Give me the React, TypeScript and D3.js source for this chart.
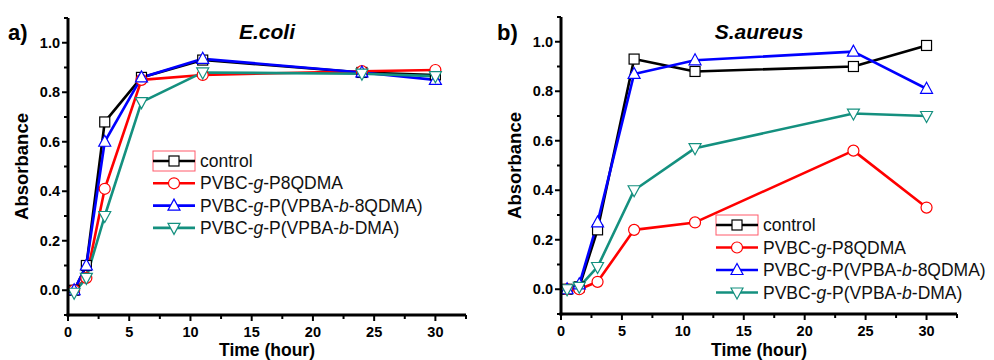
import * as d3 from 'd3';

const hours = [0.5, 1.5, 3, 6, 11, 24, 30];
const seriesNames = ['control', 'PVBC-g-P8QDMA', 'PVBC-g-P(VPBA-b-8QDMA)', 'PVBC-g-P(VPBA-b-DMA)'];

const ecoliControl = [0.0, 0.1, 0.68, 0.86, 0.93, 0.88, 0.87];
const ecoliP8QDMA = [0.0, 0.05, 0.41, 0.85, 0.87, 0.885, 0.89];
const ecoli8QDMA = [0.0, 0.1, 0.6, 0.86, 0.935, 0.88, 0.85];
const ecoliDMA = [-0.01, 0.05, 0.3, 0.76, 0.88, 0.875, 0.865];

const saureusControl = [0.0, 0.01, 0.24, 0.93, 0.88, 0.9, 0.985];
const saureusP8QDMA = [0.0, 0.0, 0.03, 0.24, 0.27, 0.56, 0.33];
const saureus8QDMA = [0.0, 0.02, 0.27, 0.87, 0.925, 0.96, 0.81];
const saureusDMA = [0.0, 0.01, 0.09, 0.4, 0.57, 0.71, 0.7];

const xTicks = [0, 5, 10, 15, 20, 25, 30];
const yTicks = [0.0, 0.2, 0.4, 0.6, 0.8, 1.0];

const colors = ['#000000', '#ff0000', '#0000ff', '#14907f'];
const shapes = ['square', 'circle', 'up', 'down'];
const FONT = '"Liberation Sans", Arial, sans-serif';

function Marker({ x, y, shape, color }: { x: number; y: number; shape: string; color: string }) {
  const r = 5.5;
  if (shape === 'square') {
    return <rect x={x - 5} y={y - 5} width={10} height={10} fill="#fff" stroke={color} strokeWidth={1.2} />;
  }
  if (shape === 'circle') {
    return <circle cx={x} cy={y} r={5.5} fill="#fff" stroke={color} strokeWidth={1.2} />;
  }
  const pts = shape === 'up'
    ? [[x, y - r - 1], [x - r - 0.5, y + r - 1], [x + r + 0.5, y + r - 1]]
    : [[x, y + r + 1], [x - r - 0.5, y - r + 1], [x + r + 0.5, y - r + 1]];
  return <polygon points={pts.map(p => p.join(',')).join(' ')} fill="#fff" stroke={color} strokeWidth={1.2} />;
}

function Label({ text, x, y }: { text: string; x: number; y: number }) {
  // italic g / b in names
  const parts = text.split(/(-[gb]-)/);
  return (
    <text x={x} y={y} fontFamily={FONT} fontSize={17.5} dominantBaseline="central" fill="#111">
      {parts.map((p, i) =>
        /^-[gb]-$/.test(p)
          ? <tspan key={i}>-<tspan fontStyle="italic">{p[1]}</tspan>-</tspan>
          : <tspan key={i}>{p}</tspan>
      )}
    </text>
  );
}

interface PanelProps {
  letter: string;
  title: string;
  series: number[][];
  x0: number;
  x1: number;
  yTop: number;
  yBottom: number;
  legendX: number;
  legendY: number;
  legendStep: number;
  letterX: number;
}

function Panel({ letter, title, series, x0, x1, yTop, yBottom, legendX, legendY, legendStep, letterX }: PanelProps) {
  const x = d3.scaleLinear().domain([0, 32.5]).range([x0, x1]);
  const y = d3.scaleLinear().domain([-0.1, 1.1]).range([yBottom, yTop]);
  const line = d3.line<number>().x((_, i) => x(hours[i])).y(d => y(d));
  const minorX = d3.range(2.5, 32.6, 5);
  const minorY = [-0.1, 0.1, 0.3, 0.5, 0.7, 0.9, 1.1];
  const cx = (x0 + x1) / 2;

  return (
    <g>
      <text x={letterX} y={32} fontFamily={FONT} fontWeight="bold" fontSize={22} dominantBaseline="central">{letter}</text>
      <text x={cx} y={31} fontFamily={FONT} fontWeight="bold" fontStyle="italic" fontSize={21} textAnchor="middle" dominantBaseline="central">{title}</text>

      {series.map((s, k) => (
        <path key={'l' + k} d={line(s) || ''} fill="none" stroke={colors[k]} strokeWidth={2.6} strokeLinejoin="round" />
      ))}
      {series.map((s, k) => s.map((v, i) => (
        <Marker key={'m' + k + '-' + i} x={x(hours[i])} y={y(v)} shape={shapes[k]} color={colors[k]} />
      )))}

      {/* axes */}
      <line x1={x0} x2={x0} y1={yTop} y2={yBottom + 1.5} stroke="#000" strokeWidth={3} />
      <line x1={x0 - 1.5} x2={x1} y1={yBottom} y2={yBottom} stroke="#000" strokeWidth={3} />
      {xTicks.map(t => (
        <g key={'xt' + t}>
          <line x1={x(t)} x2={x(t)} y1={yBottom} y2={yBottom + 6} stroke="#000" strokeWidth={2} />
          <text x={x(t)} y={yBottom + 17} fontFamily={FONT} fontWeight="bold" fontSize={14.5} textAnchor="middle" dominantBaseline="central">{t}</text>
        </g>
      ))}
      {minorX.map(t => (
        <line key={'xm' + t} x1={x(t)} x2={x(t)} y1={yBottom} y2={yBottom + 4} stroke="#000" strokeWidth={2} />
      ))}
      {yTicks.map(t => (
        <g key={'yt' + t}>
          <line x1={x0 - 6} x2={x0} y1={y(t)} y2={y(t)} stroke="#000" strokeWidth={2} />
          <text x={x0 - 8} y={y(t)} fontFamily={FONT} fontWeight="bold" fontSize={14.5} textAnchor="end" dominantBaseline="central">{d3.format('.1f')(t)}</text>
        </g>
      ))}
      {minorY.map(t => (
        <line key={'ym' + t} x1={x0 - 4} x2={x0} y1={y(t)} y2={y(t)} stroke="#000" strokeWidth={2} />
      ))}

      <text transform={`translate(${x0 - 47},${y(0.5)}) rotate(-90)`} fontFamily={FONT} fontWeight="bold" fontSize={18.5} textAnchor="middle" dominantBaseline="central">Absorbance</text>
      <text x={cx} y={350} fontFamily={FONT} fontWeight="bold" fontSize={17.5} textAnchor="middle" dominantBaseline="central">Time (hour)</text>

      {/* legend */}
      <rect x={legendX} y={legendY - 10} width={42} height={20} fill="none" stroke="#ff5a6a" strokeWidth={1} />
      {seriesNames.map((name, k) => {
        const ly = legendY + k * legendStep;
        return (
          <g key={'lg' + k}>
            <line x1={legendX} x2={legendX + 42} y1={ly} y2={ly} stroke={colors[k]} strokeWidth={2.6} />
            <Marker x={legendX + 21} y={ly} shape={shapes[k]} color={colors[k]} />
            <Label text={name} x={legendX + 47} y={ly} />
          </g>
        );
      })}
    </g>
  );
}

export default function App() {
  return (
    <svg width={994} height={360} style={{ position: 'absolute', left: 0, top: 0, background: '#fff' }}>
      <Panel
        letter="a)" title="E.coli"
        series={[ecoliControl, ecoliP8QDMA, ecoli8QDMA, ecoliDMA]}
        x0={68} x1={466} yTop={18} yBottom={315}
        legendX={153} legendY={161} legendStep={22.3} letterX={8}
      />
      <Panel
        letter="b)" title="S.aureus"
        series={[saureusControl, saureusP8QDMA, saureus8QDMA, saureusDMA]}
        x0={561} x1={957} yTop={17} yBottom={314}
        legendX={716} legendY={225} legendStep={22.5} letterX={497}
      />
    </svg>
  );
}
